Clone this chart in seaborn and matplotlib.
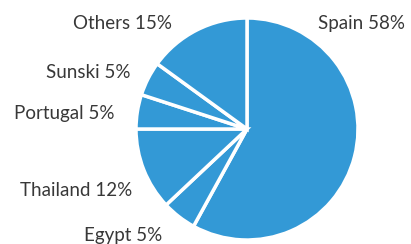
import numpy as np
import matplotlib
matplotlib.use('Agg')
from matplotlib import pyplot as plt
import seaborn as sns
sns.set_style('white')
plt.rcParams['font.family'] = ['Lato', 'DejaVu Sans']

# share of destinations, clockwise from 12 o'clock
countries = ['Spain', 'Egypt', 'Thailand', 'Portugal', 'Sunski', 'Others']
shares = [58, 5, 12, 5, 5, 15]

# label placement (radius units) and alignment
label_xy = [(0.64, 0.95), (-0.76, -0.96), (-1.03, -0.55),
            (-1.19, 0.14), (-1.05, 0.51), (-0.68, 0.95)]
label_ha = ['left', 'right', 'right', 'right', 'right', 'right']

blue = '#3399d6'

fig = plt.figure(figsize = (4.11, 2.44), dpi = 100)
ax = fig.add_axes([0, 0, 1, 1])
wedges, _ = ax.pie(shares,
                   colors = [blue] * len(shares),
                   startangle = 90,
                   counterclock = False,
                   radius = 1.0,
                   wedgeprops = dict(edgecolor = 'white', linewidth = 2.5))

for name, val, (x, y), ha in zip(countries, shares, label_xy, label_ha):
    ax.text(x, y, '{} {}%'.format(name, val), ha = ha, va = 'center',
            fontsize = 13.5, color = '#383838')

ax.set_aspect('equal', adjustable = 'box')
ax.set_xlim(-247 / 111., (411 - 247) / 111.)
ax.set_ylim((129 - 244) / 111., 129 / 111.)
ax.axis('off')

fig.savefig('out.png', dpi = 100)
